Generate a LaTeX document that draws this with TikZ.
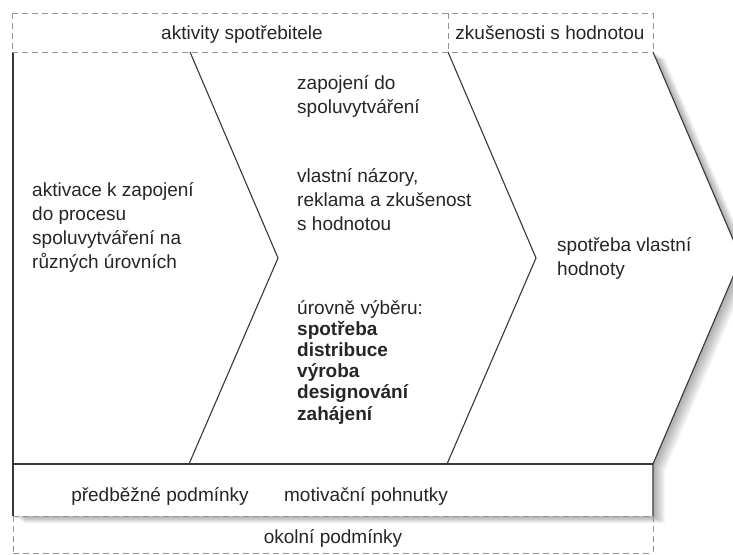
\documentclass[tikz,border=0pt]{standalone}
\usepackage{fontspec}
\setmainfont{Liberation Sans}
\usepackage{tikz}

\begin{document}
\begin{tikzpicture}[x=1pt,y=-1pt]
	\tikzset{
		txt/.style={anchor=base west,align=left,inner sep=0pt,text=black!85,
			font=\fontsize{19}{24}\selectfont},
		lbl/.style={anchor=base,inner sep=0pt,text=black!85,
			font=\fontsize{19}{24}\selectfont},
		frame/.style={draw=black!78,line width=1.1pt,line join=miter},
		dashline/.style={draw=black!42,line width=0.9pt,dash pattern=on 6pt off 4pt}}
	\useasboundingbox (0,0) rectangle (733,554);
	\clip (0,0) rectangle (733,554);
	% corners of the main area
	\coordinate (tl) at (13,52);
	\coordinate (tr) at (653,52);
	\coordinate (tip) at (741,258);
	\coordinate (br) at (653,464);
	\coordinate (bl) at (13,464);
	\coordinate (fr) at (653,516);
	\coordinate (fl) at (13,516);
	% soft shadow
	\foreach \s in {1,...,12}
		\fill[black,opacity=0.03] ([shift={(\s,0.6*\s)}]tl) -- ([shift={(\s,0.6*\s)}]tr)
			-- ([shift={(\s,0.6*\s)}]tip) -- ([shift={(\s,0.6*\s)}]br)
			-- ([shift={(\s,0.6*\s)}]fr) -- ([shift={(\s,0.6*\s)}]fl) -- cycle;
	\fill[white] (tl) -- (tr) -- (tip) -- (br) -- (fr) -- (fl) -- cycle;
	% chevrons
	\draw[frame] (190,52) -- (278,258) -- (189,464);
	\draw[frame] (448,52) -- (536,258) -- (447,464);
	\draw[frame] (tr) -- (tip) -- (br) -- (fr);
	\draw[frame] (tl) -- (fl);
	\draw[frame] (bl) -- (br);
	% dashed frames
	\draw[dashline] (12,13) -- (653,13);
	\draw[dashline] (12,52) -- (653,52);
	\draw[dashline] (12,13) -- (12,52);
	\draw[dashline] (448,13) -- (448,52);
	\draw[dashline] (653,13) -- (653,52);
	\draw[dashline] (fl) -- (fr);
	\draw[dashline] (fl) -- (13,553);
	\draw[dashline] (fr) -- (653,553);
	\draw[dashline] (13,553) -- (653,553);
	% texts (base anchor sits on the last line)
	\node[lbl] (akt) at (242,39) {aktivity spotřebitele};
	\node[lbl] (zku) at (550,39) {zkušenosti s hodnotou};
	\node[txt] (aktiv) at (32,268) {aktivace k zapojení\\do procesu\\spoluvytváření na\\různých úrovních};
	\node[txt] (zap) at (297,113) {zapojení do\\spoluvytváření};
	\node[txt] (vlast) at (297,230) {vlastní názory,\\reklama a zkušenost\\s hodnotou};
	\node[txt,font=\fontsize{19}{21.2}\selectfont] (urov) at (297,420)
		{úrovně výběru:\\\textbf{spotřeba}\\\textbf{distribuce}\\\textbf{výroba}\\\textbf{designování}\\\textbf{zahájení}};
	\node[txt] (spotr) at (557,275) {spotřeba vlastní\\hodnoty};
	\node[lbl] (pred) at (160,501) {předběžné podmínky};
	\node[lbl] (motiv) at (366,501) {motivační pohnutky};
	\node[lbl] (okol) at (333,543) {okolní podmínky};
\end{tikzpicture}
\end{document}
